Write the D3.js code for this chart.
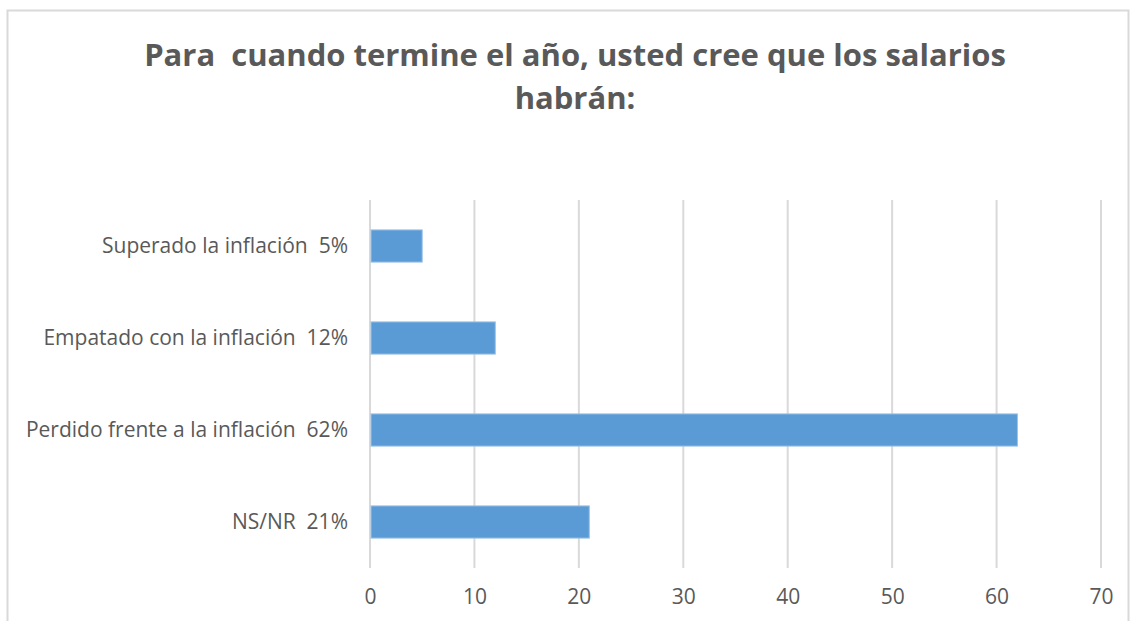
<!DOCTYPE html>
<html>
<head>
<meta charset="utf-8">
<script src="https://cdn.jsdelivr.net/npm/d3@7"></script>
<style>
  body { margin: 0; background: #fff; }
  text { font-family: "Open Sans", sans-serif; fill: #595959; white-space: pre; }
</style>
</head>
<body>
<svg class="chart_svg" width="1132" height="621"></svg>
<script>
var categories = ["Superado la inflación  5%", "Empatado con la inflación  12%", "Perdido frente a la inflación  62%", "NS/NR  21%"];
var values = [5, 12, 62, 21];
var tickValues = [0, 10, 20, 30, 40, 50, 60, 70];
var titleLines = ["Para  cuando termine el año, usted cree que los salarios", "habrán:"];

var data = categories.map(function(c, i) { return {label: c, value: values[i]}; });

var svg = d3.select(".chart_svg"),
    margin = {top: 200, right: 31, bottom: 53, left: 370},
    width = svg.attr("width") - margin.left - margin.right,
    height = svg.attr("height") - margin.top - margin.bottom;

// chart frame
svg.append("rect")
    .attr("x", 7.5)
    .attr("y", 10.5)
    .attr("width", 1121)
    .attr("height", 640)
    .attr("fill", "none")
    .attr("stroke", "#d9d9d9")
    .attr("stroke-width", 2);

svg.selectAll(".title")
    .data(titleLines)
    .enter().append("text")
    .attr("class", "title")
    .attr("x", 575)
    .attr("y", function(d, i) { return 66 + i * 43; })
    .attr("text-anchor", "middle")
    .style("font-size", "31px")
    .style("font-weight", "bold")
    .text(function(d) { return d; });

var g = svg.append("g")
    .attr("transform", "translate(" + margin.left + "," + margin.top + ")");

var x = d3.scaleLinear().domain([0, 70]).range([0, width]);
var y = d3.scaleBand().domain(categories).range([0, height]).paddingInner(0.65).paddingOuter(0.325);

// gridlines
g.append("g")
    .attr("class", "grid")
    .selectAll("line")
    .data(tickValues)
    .enter().append("line")
    .attr("x1", function(d) { return x(d); })
    .attr("x2", function(d) { return x(d); })
    .attr("y1", 0)
    .attr("y2", height)
    .attr("stroke", "#d9d9d9")
    .attr("stroke-width", 2);

g.selectAll(".bar")
    .data(data)
    .enter().append("rect")
    .attr("class", "bar")
    .attr("x", x(0) + 1)
    .attr("y", function(d) { return y(d.label); })
    .attr("width", function(d) { return x(d.value) - x(0) - 1; })
    .attr("height", y.bandwidth())
    .attr("fill", "#5b9bd5")
    .attr("stroke", "#9dc3e6")
    .attr("stroke-width", 1);

var xAxis = g.append("g")
    .attr("transform", "translate(0," + height + ")")
    .call(d3.axisBottom(x).tickValues(tickValues).tickSize(0).tickPadding(21));
xAxis.select(".domain").remove();
xAxis.selectAll("text").style("font-size", "21px").attr("fill", "#595959");

var yAxis = g.append("g")
    .call(d3.axisLeft(y).tickSize(0).tickPadding(22));
yAxis.select(".domain").remove();
yAxis.selectAll("text").style("font-size", "21px").attr("fill", "#595959");
</script>
</body>
</html>
